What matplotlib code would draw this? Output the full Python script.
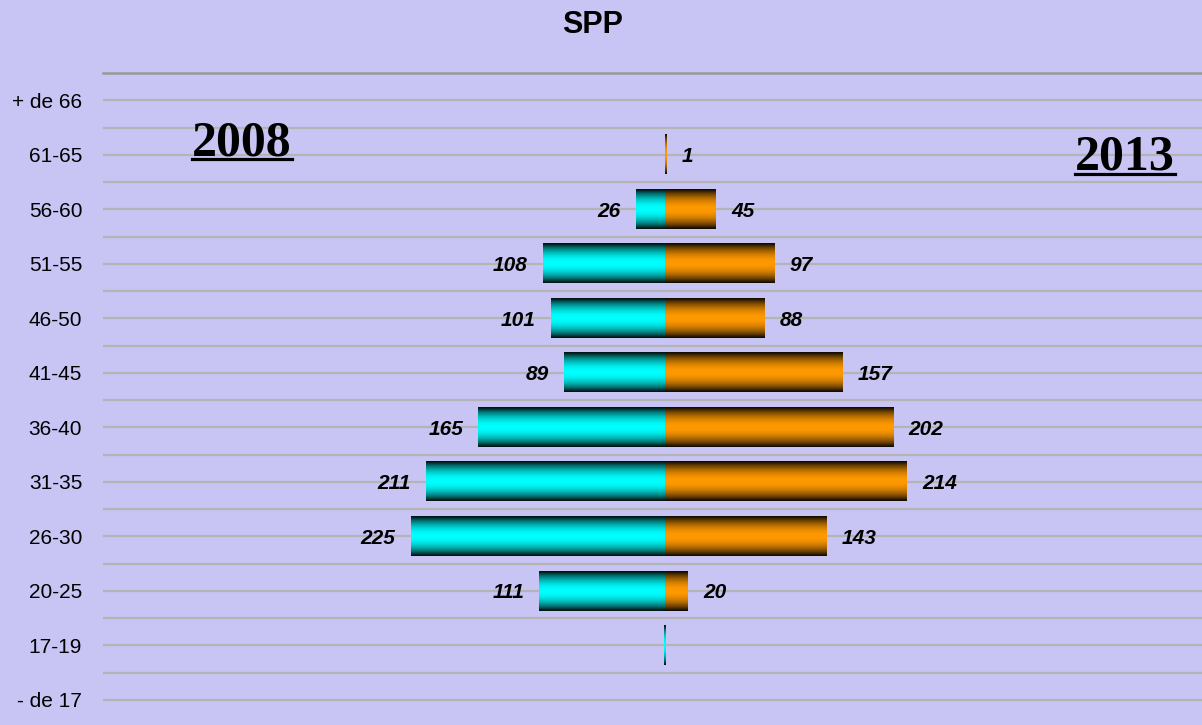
import matplotlib
matplotlib.use("Agg")
import matplotlib.pyplot as plt
import numpy as np
from matplotlib.lines import Line2D

# Data (bottom to top)
ages = ["- de 17", "17-19", "20-25", "26-30", "31-35", "36-40",
        "41-45", "46-50", "51-55", "56-60", "61-65", "+ de 66"]
values_2008 = [0, 1, 111, 225, 211, 165, 89, 101, 108, 26, 0, 0]
values_2013 = [0, 0, 20, 143, 214, 202, 157, 88, 97, 45, 1, 0]
labels_2008 = ["", "", "111", "225", "211", "165", "89", "101", "108", "26", "", ""]
labels_2013 = ["", "", "20", "143", "214", "202", "157", "88", "97", "45", "1", ""]

bg = "#C8C5F5"
plt.rcParams["font.family"] = ["Liberation Sans", "DejaVu Sans"]

fig = plt.figure(figsize=(12.02, 7.25), dpi=100, facecolor=bg)
ax = fig.add_axes([103 / 1202, -0.003, 1 - 103 / 1202, 0.9023])
ax.set_facecolor(bg)


def gradient(rgb, n=64):
    # dark edges, bright middle
    t = np.linspace(0, 1, n)
    prof = np.clip(np.sin(np.pi * t) ** 0.8, 0.08, 1)
    return np.array(rgb)[None, None, :] * prof[:, None, None]


y = np.arange(len(ages))
bar_h = 0.72
bars_l = ax.barh(y, [-v for v in values_2008], height=bar_h, color="none", zorder=3)
bars_r = ax.barh(y, values_2013, height=bar_h, color="none", zorder=3)

for bars, rgb in [(bars_l, (0.0, 1.0, 1.0)), (bars_r, (1.0, 0.6, 0.0))]:
    img = gradient(rgb)
    for b in bars:
        if b.get_width() == 0:
            continue
        x0, y0 = b.get_x(), b.get_y()
        ax.imshow(img, extent=[x0, x0 + b.get_width(), y0, y0 + b.get_height()],
                  aspect="auto", interpolation="bilinear", zorder=3)

# value labels
lab_kw = dict(textcoords="offset points", va="center_baseline", fontsize=15,
              fontweight="bold", fontstyle="italic", zorder=4)
for b, lab in zip(bars_l, labels_2008):
    if lab:
        ax.annotate(lab, (b.get_x() + b.get_width(), b.get_y() + b.get_height() / 2),
                    xytext=(-11, 0), ha="right", **lab_kw)
for b, lab in zip(bars_r, labels_2013):
    if lab:
        ax.annotate(lab, (b.get_x() + b.get_width(), b.get_y() + b.get_height() / 2),
                    xytext=(11, 0), ha="left", **lab_kw)

ax.set_xlim(-497, 475)
ax.set_ylim(-0.5, len(ages) - 0.5)
ax.set_yticks(y)
ax.set_yticklabels(ages, fontsize=15)
ax.set_yticks(y + 0.5, minor=True)
ax.set_xticks([])
ax.tick_params(axis="y", which="both", length=0, pad=15)
ax.grid(axis="y", which="both", color="#B4B4B4", linewidth=1.6, zorder=1)
ax.set_axisbelow(True)
for s in ["left", "right", "bottom"]:
    ax.spines[s].set_visible(False)
ax.spines["top"].set_color("#999999")
ax.spines["top"].set_linewidth(1.8)

fig.text(593 / 1202, 1 - 25 / 725, "SPP", ha="center", va="center",
         fontsize=22, fontweight="bold")

# Year headings, underlined
years = [("2008", 242 / 1202, 1 - 155 / 725), ("2013", 1125 / 1202, 1 - 170 / 725)]
texts = []
for s, xx, yy in years:
    t = fig.text(xx, yy, s, ha="center", va="baseline", fontsize=36,
                 fontweight="bold", family=["Liberation Serif", "DejaVu Serif"])
    texts.append((t, yy))

fig.canvas.draw()
r = fig.canvas.get_renderer()
for t, yy in texts:
    bb = t.get_window_extent(r).transformed(fig.transFigure.inverted())
    yl = yy - 4 / 725
    fig.add_artist(Line2D([bb.x0, bb.x1], [yl, yl], color="black", linewidth=2.3,
                          transform=fig.transFigure))

fig.savefig("out.png", dpi=100, facecolor=bg)
